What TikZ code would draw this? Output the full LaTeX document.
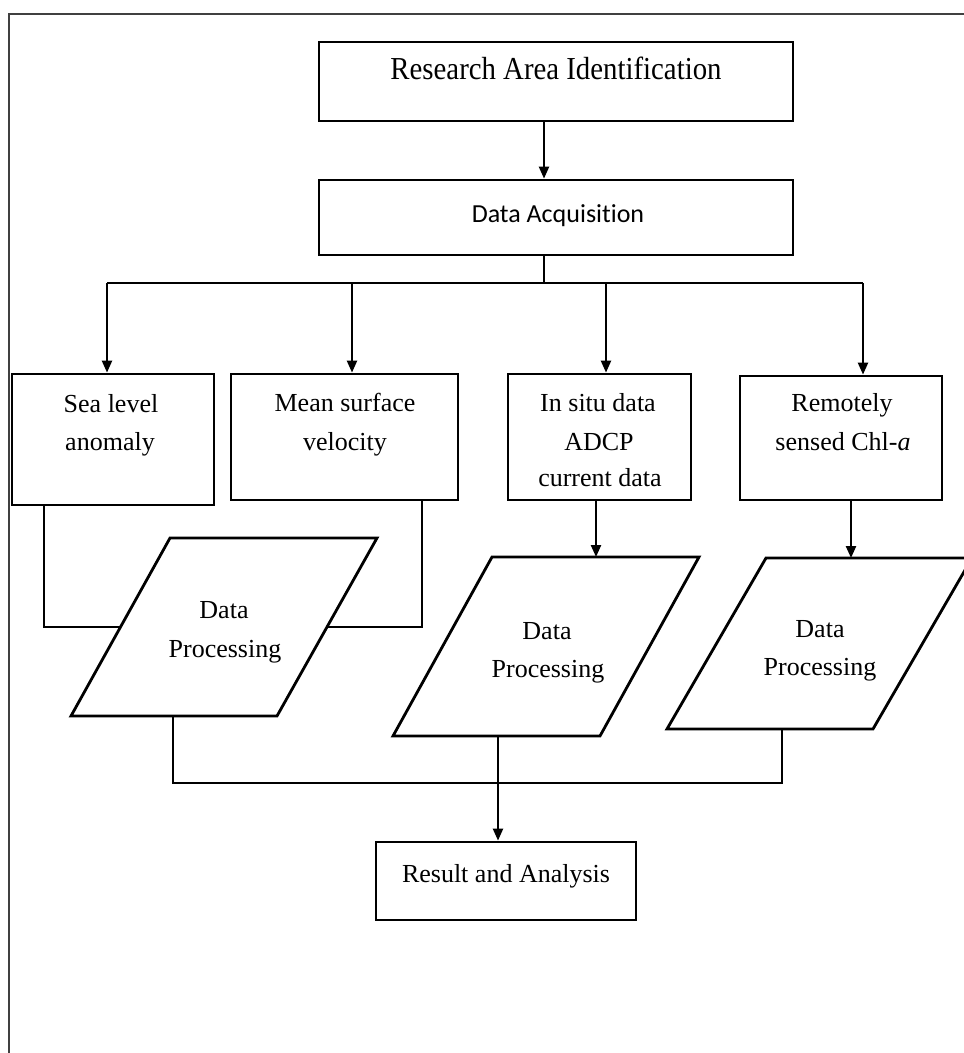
\documentclass[tikz,border=0pt]{standalone}
\usepackage{fontspec}
\setmainfont{Liberation Serif}
\newfontfamily\calfont[Ligatures=NoCommon]{Carlito}
\usetikzlibrary{arrows.meta,calc}
\begin{document}
\begin{tikzpicture}[x=1pt,y=-1pt,
  box/.style={draw, line width=2.8pt, inner sep=0pt},
  para/.style={draw, line width=2.8pt, line join=miter},
  conn/.style={line width=2.3pt},
  arr/.style={conn, -{Triangle[length=12pt,width=10pt]}},
  txt/.style={font=\fontsize{26}{30}\selectfont, inner sep=0pt, anchor=base},
]
\useasboundingbox (0,0) rectangle (964,1053);
% outer frame
\draw[line width=1.5pt, black!75] (964,14) -- (9,14) -- (9,1053);

% boxes
\node[box, minimum width=474pt, minimum height=79pt] (research) at (556,81.5) {};
\node[box, minimum width=474pt, minimum height=75pt] (da) at (556,217.5) {};
\node[box, minimum width=202pt, minimum height=131pt] (sea) at (113,439.5) {};
\node[box, minimum width=227pt, minimum height=126pt] (mean) at (344.5,437) {};
\node[box, minimum width=183pt, minimum height=126pt] (insitu) at (599.5,437) {};
\node[box, minimum width=202pt, minimum height=124pt] (remote) at (841,438) {};
\node[box, minimum width=260pt, minimum height=78pt] (result) at (506,881) {};

% parallelograms
\coordinate (p1tl) at (170,538); \coordinate (p1tr) at (377,538);
\coordinate (p1br) at (277,716); \coordinate (p1bl) at (71,716);
\coordinate (p2tl) at (492,557); \coordinate (p2tr) at (699,557);
\coordinate (p2br) at (600,736); \coordinate (p2bl) at (393,736);
\coordinate (p3tl) at (766,558); \coordinate (p3tr) at (972,558);
\coordinate (p3br) at (873,729); \coordinate (p3bl) at (667,729);
\draw[para] (p1tl) -- (p1tr) -- (p1br) -- (p1bl) -- cycle;
\draw[para] (p2tl) -- (p2tr) -- (p2br) -- (p2bl) -- cycle;
\draw[para] (p3tl) -- (p3tr) -- (p3br) -- (p3bl) -- cycle;

% texts
\node[txt, font=\fontsize{32}{36}\selectfont, xscale=0.9] (tres) at (556,79) {Research Area Identification};
\node[txt, font=\calfont\fontsize{26}{30}\selectfont] (tda) at (558,222) {Data Acquisition};
\node[txt] (tsea1) at (111,412) {Sea level};
\node[txt] (tsea2) at (110,450) {anomaly};
\node[txt] (tmean1) at (345,411) {Mean surface};
\node[txt] (tmean2) at (345,450) {velocity};
\node[txt] (tin1) at (598,411) {In situ data};
\node[txt] (tin2) at (599,450) {ADCP};
\node[txt] (tin3) at (600,486) {current data};
\node[txt] (trem1) at (842,411) {Remotely};
\node[txt] (trem2) at (843,450) {sensed Chl-\textit{a}};
\node[txt] (tp1a) at (224,618) {Data};
\node[txt] (tp1b) at (225,657) {Processing};
\node[txt] (tp2a) at (547,639) {Data};
\node[txt] (tp2b) at (548,677) {Processing};
\node[txt] (tp3a) at (820,637) {Data};
\node[txt] (tp3b) at (820,675) {Processing};
\node[txt] (tresult) at (506,882) {Result and Analysis};

% column coordinates
\coordinate (c0) at (544,0);
\coordinate (cs) at (107,0);
\coordinate (cm) at (352,0);
\coordinate (ci) at (606,0);
\coordinate (cr) at (863,0);
\coordinate (bar) at (0,283);
\coordinate (sx) at (44,0);
\coordinate (mx) at (422,0);
\coordinate (ix) at (596,0);
\coordinate (rx) at (851,0);
\coordinate (q1) at (173,0);
\coordinate (q2) at (498,0);
\coordinate (q3) at (782,0);
\coordinate (low) at (0,783);
\coordinate (p1l) at ($(p1tl)!0.5!(p1bl)$);
\coordinate (p1r) at ($(p1tr)!0.5!(p1br)$);

% connectors
\draw[arr] (research.south -| c0) -- (da.north -| c0);
\draw[conn] (da.south -| c0) -- (c0 |- bar);
\draw[conn] (cs |- bar) -- (cr |- bar);
\draw[arr] (cs |- bar) -- (sea.north -| cs);
\draw[arr] (cm |- bar) -- (mean.north -| cm);
\draw[arr] (ci |- bar) -- (insitu.north -| ci);
\draw[arr] (cr |- bar) -- (remote.north -| cr);

\draw[conn] (sea.south -| sx) |- (p1l);
\draw[conn] (mean.south -| mx) |- (p1r);
\draw[arr] (insitu.south -| ix) -- (ix |- p2tl);
\draw[arr] (remote.south -| rx) -- (rx |- p3tl);

\draw[conn] (q1 |- p1bl) -- (q1 |- low) -- (q3 |- low) -- (q3 |- p3bl);
\draw[arr] (q2 |- p2bl) -- (result.north -| q2);
\end{tikzpicture}
\end{document}
